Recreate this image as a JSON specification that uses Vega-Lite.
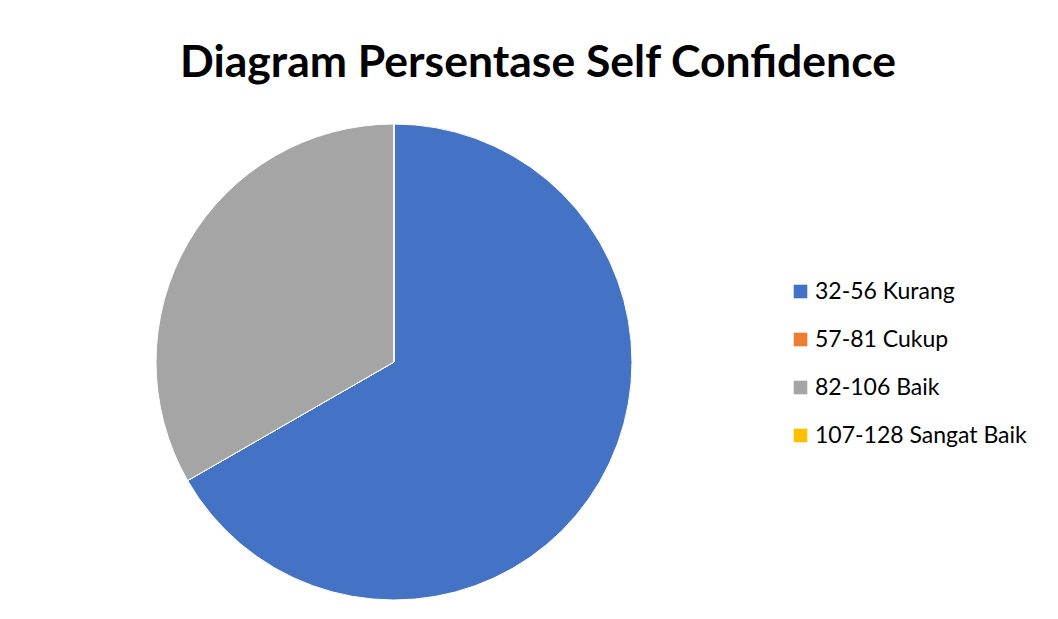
{
  "$schema": "https://vega.github.io/schema/vega-lite/v6.json",
  "autosize": "none",
  "padding": {"left": 8, "top": 12, "right": 278, "bottom": 0},
  "width": 772,
  "height": 700,
  "background": "white",
  "title": {
    "text": "Diagram Persentase Self Confidence",
    "font": "Lato",
    "fontSize": 44.5,
    "fontWeight": "bold",
    "color": "#000000",
    "anchor": "start",
    "frame": "group",
    "baseline": "alphabetic",
    "offset": -109,
    "dx": 172,
    "limit": 1000
  },
  "data": {
    "values": [
      {"kategori": "32-56 Kurang", "persen": 66.7},
      {"kategori": "57-81 Cukup", "persen": 0},
      {"kategori": "82-106 Baik", "persen": 33.3},
      {"kategori": "107-128 Sangat Baik", "persen": 0}
    ]
  },
  "mark": {"type": "arc", "radius": 238, "stroke": "white", "strokeWidth": 1},
  "encoding": {
    "theta": {"field": "persen", "type": "quantitative", "stack": true},
    "color": {
      "field": "kategori",
      "type": "nominal",
      "scale": {
        "domain": ["32-56 Kurang", "57-81 Cukup", "82-106 Baik", "107-128 Sangat Baik"],
        "range": ["#4472C4", "#ED7D31", "#A5A5A5", "#FFC000"]
      },
      "legend": {
        "title": null,
        "orient": "none",
        "legendX": 781,
        "legendY": 268,
        "symbolType": "square",
        "symbolSize": 185,
        "symbolStrokeWidth": 0,
        "labelFont": "Lato",
        "labelFontSize": 23,
        "labelColor": "#000000",
        "labelOffset": 3,
        "rowPadding": 24,
        "labelLimit": 400
      }
    }
  },
  "config": {"view": {"stroke": null}}
}
